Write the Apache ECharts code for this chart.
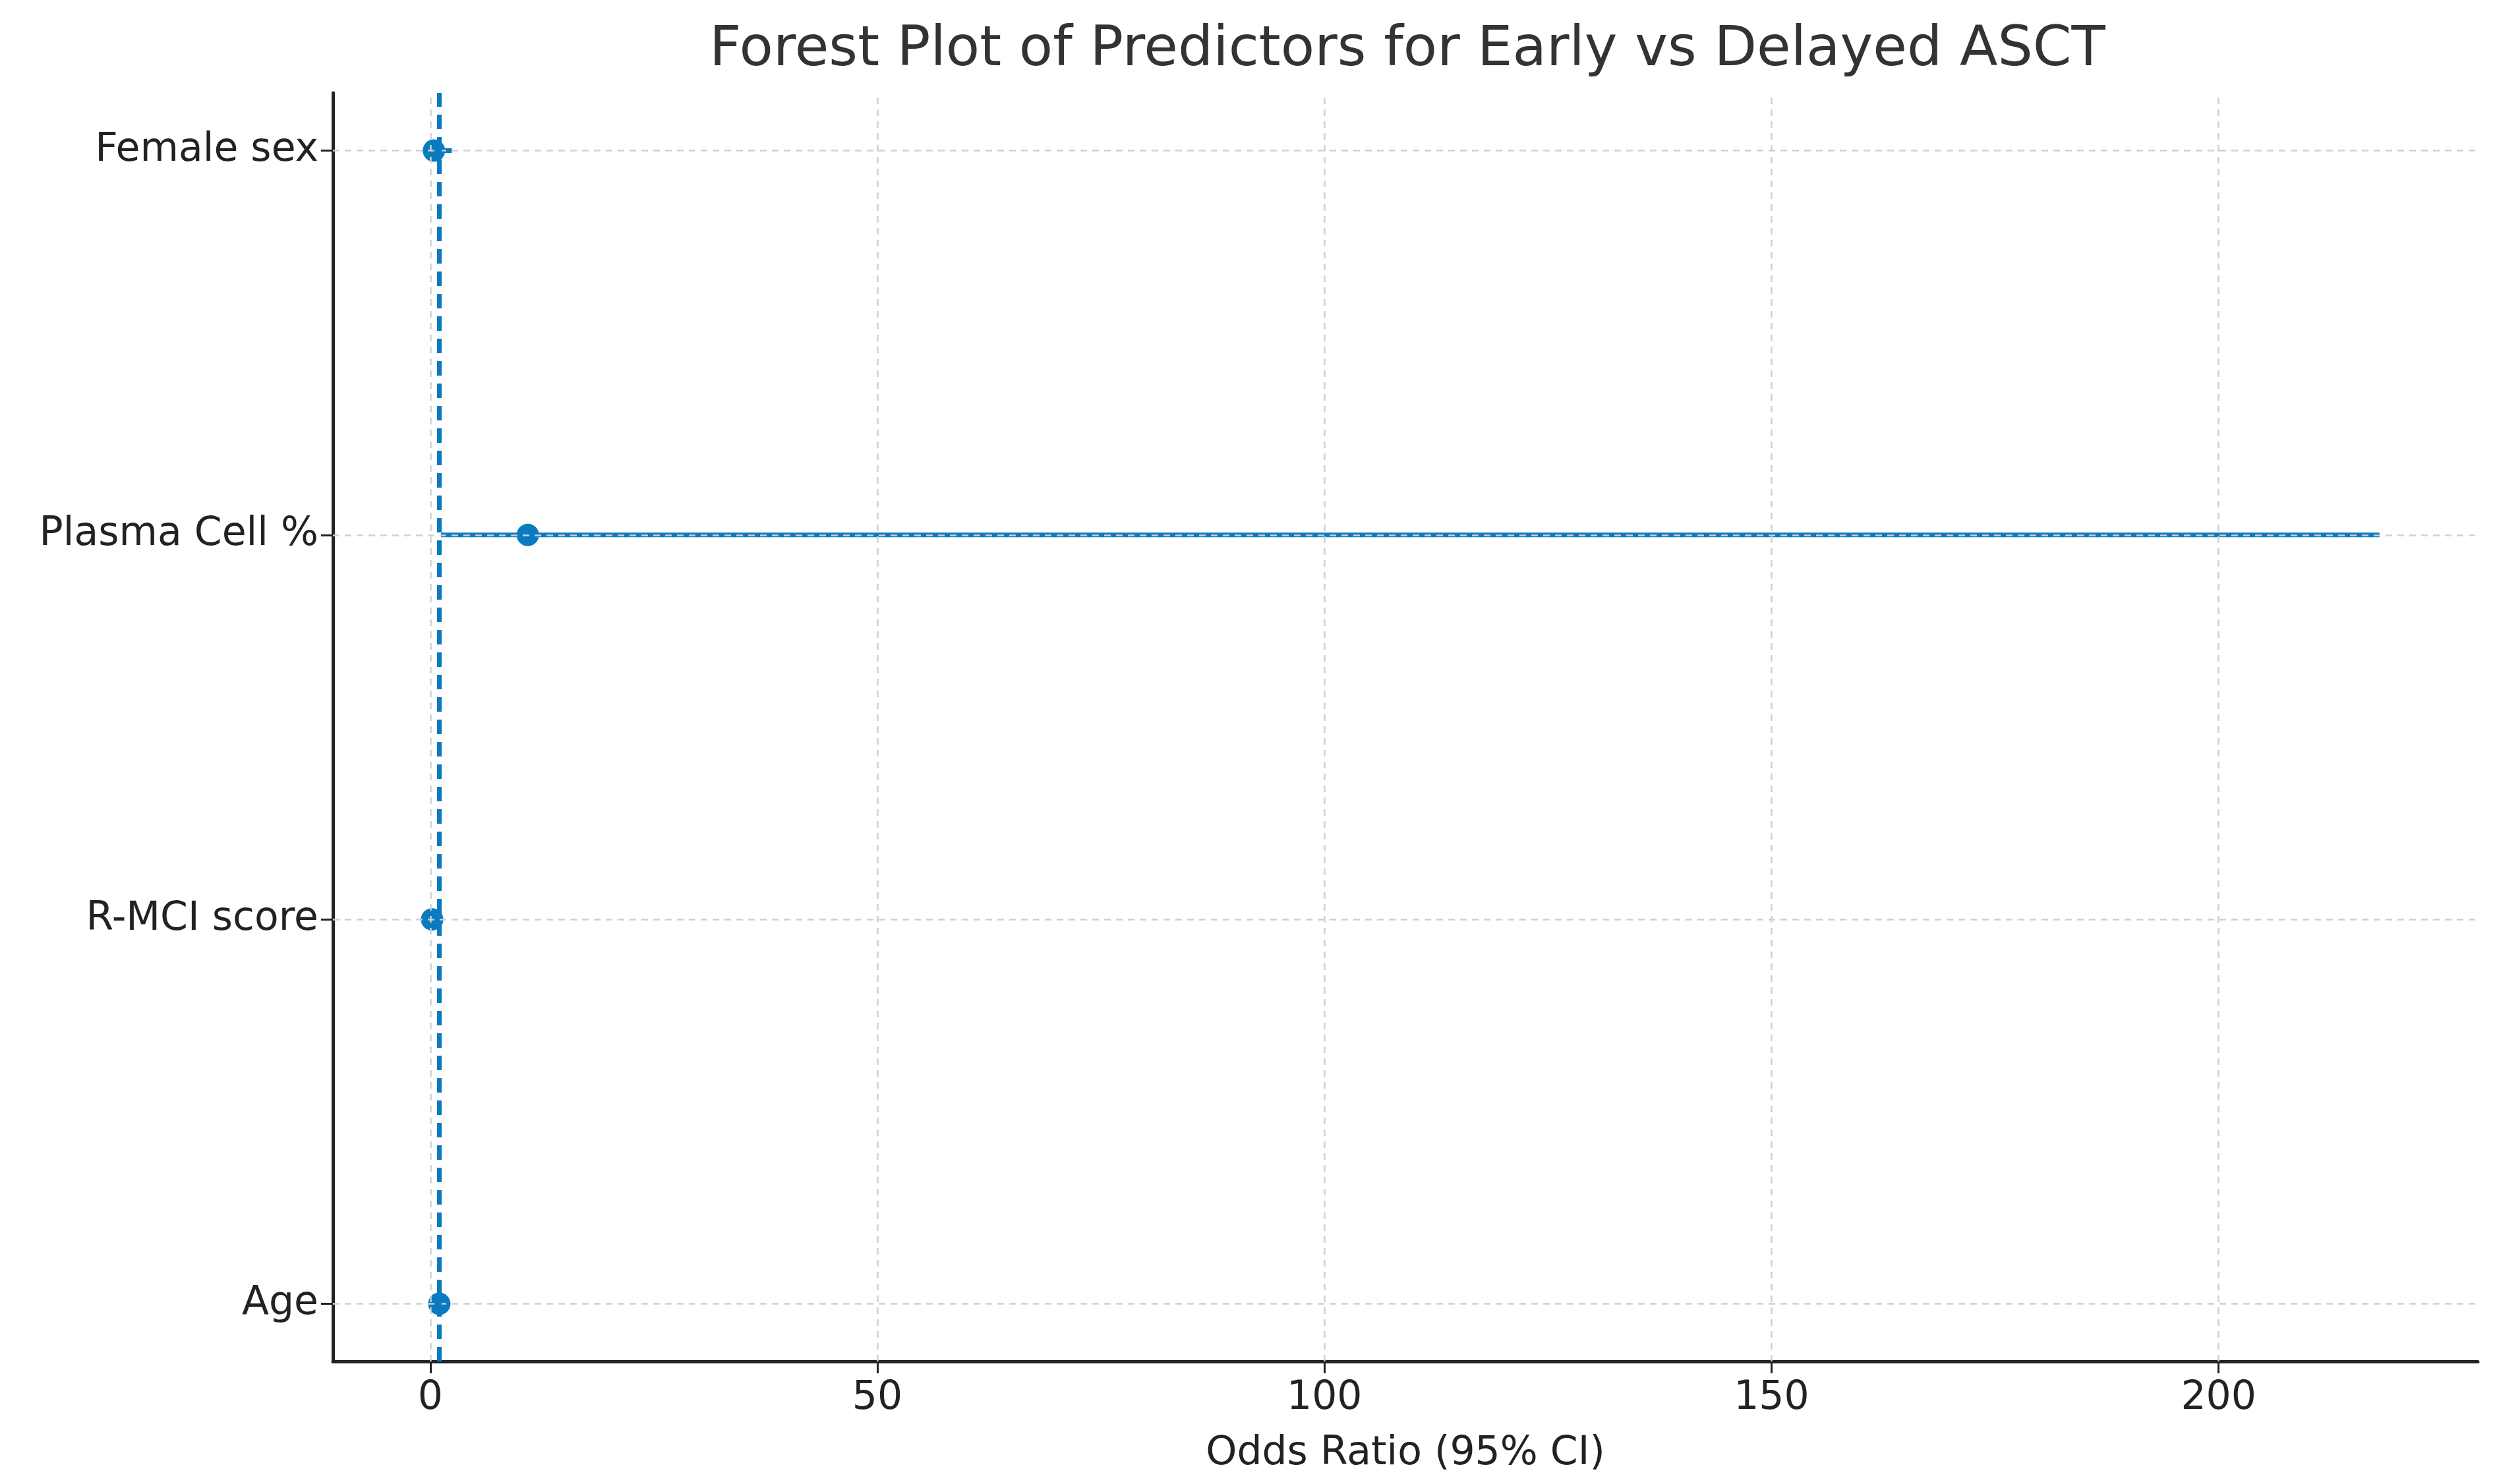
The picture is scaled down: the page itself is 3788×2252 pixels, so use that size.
<!DOCTYPE html>
<html>
<head>
<meta charset="utf-8">
<script src="https://cdn.jsdelivr.net/npm/echarts@6/dist/echarts.min.js"></script>
<style>html,body{margin:0;padding:0;background:#fff}#c{width:3788px;height:2252px}</style>
</head>
<body>
<div id="c"></div>
<script>
var predictors = ['Age', 'R-MCI score', 'Plasma Cell %', 'Female sex']
var oddsRatio = [1.0, 0.2, 10.9, 0.4]
var ciLow = [0.95, 0.05, 1.2, 0.1]
var ciHigh = [1.08, 0.6, 218, 2.4]
var xTicks = [0, 50, 100, 150, 200]
var yTicks = [0, 1, 2, 3]
var refLine = 1

var blue = '#0a7bbf'
var font = 'DejaVu Sans'

var myChart = echarts.init(document.getElementById('c'))

var ciData = predictors.map(function(p, i){ return [ciLow[i], ciHigh[i], i] })
var pointData = predictors.map(function(p, i){ return [oddsRatio[i], i] })

var option = {
	animation: false,
	title: {
		text: 'Forest Plot of Predictors for Early vs Delayed ASCT',
		left: 2130, top: 30, textAlign: 'center',
		textStyle: {fontFamily: font, fontSize: 84, fontWeight: 'normal', color: '#333'}
	},
	grid: {left: 505, right: 29, top: 141, bottom: 186},
	xAxis: {
		type: 'value', min: -10.9, max: 229,
		name: 'Odds Ratio (95% CI)', nameLocation: 'middle', nameGap: 110,
		nameTextStyle: {fontFamily: font, fontSize: 60, color: '#222'},
		axisLine: {show: true, onZero: false, lineStyle: {color: '#222', width: 5}},
		axisTick: {show: true, length: 18, lineStyle: {color: '#222', width: 3}, customValues: xTicks},
		axisLabel: {fontFamily: font, fontSize: 60, color: '#222', margin: 26, customValues: xTicks},
		splitLine: {show: false}
	},
	yAxis: {
		type: 'value', min: -0.15, max: 3.15,
		axisLine: {show: true, onZero: false, lineStyle: {color: '#222', width: 5}},
		axisTick: {show: true, length: 18, lineStyle: {color: '#222', width: 3}, customValues: yTicks},
		axisLabel: {fontFamily: font, fontSize: 60, color: '#222', margin: 22, customValues: yTicks,
			formatter: function(v){ return predictors[Math.round(v)] }},
		splitLine: {show: false}
	},
	series: [
		{
			type: 'line', data: [], silent: true,
			markLine: {
				symbol: 'none', silent: true, label: {show: false},
				lineStyle: {color: '#d0d0d0', width: 2.5, type: [10, 8]},
				data: xTicks.map(function(v){ return {xAxis: v} }).concat(yTicks.map(function(v){ return {yAxis: v} }))
			}
		},
		{
			type: 'custom', data: ciData, z: 3,
			renderItem: function(params, api){
				var a = api.coord([api.value(0), api.value(2)])
				var b = api.coord([api.value(1), api.value(2)])
				return {type: 'line', shape: {x1: a[0], y1: a[1], x2: b[0], y2: b[1]},
					style: {stroke: blue, lineWidth: 7}}
			},
			encode: {x: [0, 1], y: 2}
		},
		{
			type: 'scatter', data: pointData, symbolSize: 34, z: 4,
			itemStyle: {color: blue, opacity: 1},
			markLine: {
				symbol: 'none', silent: true, label: {show: false},
				lineStyle: {color: blue, width: 7, type: [22, 12]},
				data: [{xAxis: refLine}]
			}
		}
	]
}
myChart.setOption(option)
</script>
</body>
</html>
